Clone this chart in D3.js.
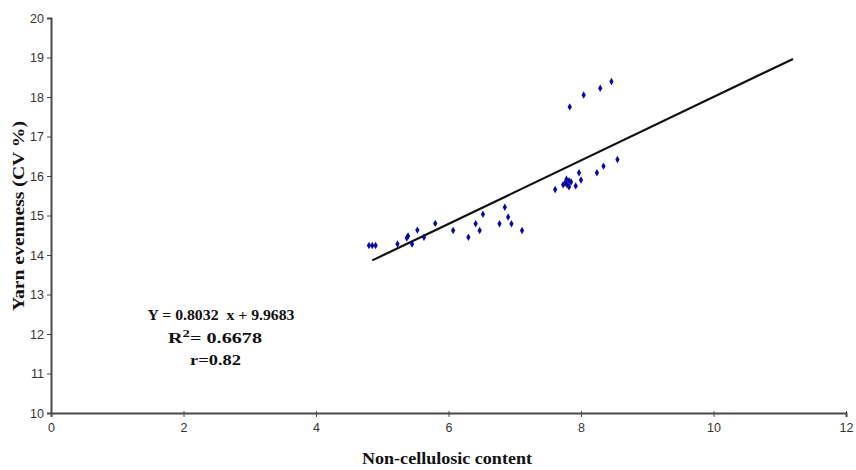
<!DOCTYPE html>
<html><head><meta charset="utf-8">
<script src="https://cdn.jsdelivr.net/npm/d3@7/dist/d3.min.js"></script>
<style>body{margin:0;background:#fff}</style>
</head><body>
<script>
const xValues = [4.80,4.85,4.90,5.23,5.37,5.39,5.45,5.53,5.63,5.80,6.07,6.30,6.41,6.47,6.52,6.77,6.85,6.90,6.95,7.11,
  7.61,7.73,7.76,7.78,7.79,7.82,7.82,7.85,7.92,7.97,8.00,8.24,8.34,8.55,7.83,8.04,8.29,8.46];
const yValues = [14.24,14.24,14.24,14.28,14.43,14.48,14.28,14.63,14.45,14.80,14.62,14.45,14.79,14.62,15.03,14.79,15.21,14.96,14.79,14.62,
  15.66,15.78,15.82,15.92,15.78,15.88,15.73,15.85,15.75,16.08,15.90,16.08,16.25,16.42,17.75,18.05,18.22,18.39];
const xTicks = [0,2,4,6,8,10,12];
const yTicks = [10,11,12,13,14,15,16,17,18,19,20];
const slope = 0.8032, intercept = 9.9683;
const fitRange = [4.85, 11.2];
const eqLines = ["Y = 0.8032  x + 9.9683", "R2 = 0.6678", "r=0.82"];

const W = 856, H = 470;
const svg = d3.select("body").append("svg").attr("width", W).attr("height", H);
const x = d3.scaleLinear().domain([0,12]).range([51,846]);
const y = d3.scaleLinear().domain([10,20]).range([413,18]);

const axisColor = "#4a4a4a";
const gx = svg.append("g").attr("transform","translate(0,413)")
  .call(d3.axisBottom(x).tickValues(xTicks).tickSize(4).tickPadding(6).tickFormat(d3.format("d")));
const gy = svg.append("g").attr("transform","translate(51,0)")
  .call(d3.axisLeft(y).tickValues(yTicks).tickSize(4).tickPadding(3).tickFormat(d3.format("d")));
[gx,gy].forEach(g=>{
  g.select(".domain").attr("stroke",axisColor).attr("stroke-width",2);
  g.selectAll(".tick line").attr("stroke",axisColor).attr("stroke-width",1);
  g.selectAll(".tick text").attr("fill","#333").style("font-family","'Liberation Sans', Arial, sans-serif").style("font-size","12.5px");
});
gx.selectAll(".tick line").attr("y1",-2);

svg.append("line")
  .attr("x1", x(fitRange[0])).attr("y1", y(slope*fitRange[0]+intercept))
  .attr("x2", x(fitRange[1])).attr("y2", y(slope*fitRange[1]+intercept))
  .attr("stroke","#111").attr("stroke-width",2.2);

const pts = xValues.map((v,i)=>[v,yValues[i]]);
svg.append("g").selectAll("path").data(pts).enter().append("path")
  .attr("d", d3.symbol().type(d3.symbolDiamond).size(16))
  .attr("transform", d=>`translate(${x(d[0])},${y(d[1])})`)
  .attr("fill","#0a0a9e");

const serif = "'Liberation Serif', 'Times New Roman', serif";
svg.append("text").attr("x",447).attr("y",464).attr("text-anchor","middle")
  .attr("textLength",170).attr("lengthAdjust","spacingAndGlyphs")
  .style("font-family",serif).style("font-weight","bold").style("font-size","17px").attr("fill","#111")
  .text("Non-cellulosic content");
svg.append("text").attr("transform","translate(24,216) rotate(-90)").attr("text-anchor","middle")
  .attr("textLength",190).attr("lengthAdjust","spacingAndGlyphs")
  .style("font-family",serif).style("font-weight","bold").style("font-size","17px").attr("fill","#111")
  .text("Yarn evenness (CV %)");

const eq = svg.append("g").style("font-family",serif).style("font-weight","bold").style("font-size","15px").attr("fill","#111");
eq.append("text").attr("x",221).attr("y",320).attr("text-anchor","middle").attr("xml:space","preserve")
  .attr("textLength",147).attr("lengthAdjust","spacingAndGlyphs").text(eqLines[0]);
const r2 = eq.append("text").attr("x",215).attr("y",343).attr("text-anchor","middle")
  .attr("textLength",94).attr("lengthAdjust","spacingAndGlyphs");
r2.append("tspan").text("R");
r2.append("tspan").attr("dy",-6).style("font-size","11px").text("2");
r2.append("tspan").attr("dy",6).text("= 0.6678");
eq.append("text").attr("x",215.5).attr("y",365).attr("text-anchor","middle")
  .attr("textLength",51).attr("lengthAdjust","spacingAndGlyphs").text(eqLines[2]);
</script>
</body></html>
